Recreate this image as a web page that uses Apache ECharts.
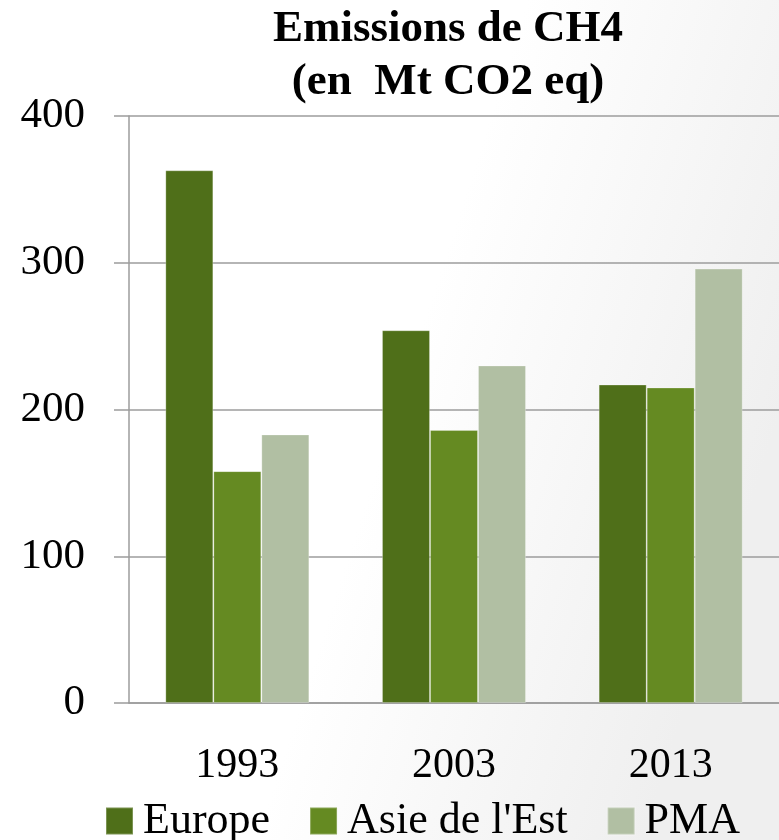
<!DOCTYPE html>
<html>
<head>
<meta charset="utf-8">
<script src="https://cdn.jsdelivr.net/npm/echarts@6/dist/echarts.min.js"></script>
<style>
  html, body { margin: 0; padding: 0; }
  #chart { width: 779px; height: 840px; }
</style>
</head>
<body>
<div id="chart"></div>
<script>
// Methane emissions by region (Mt CO2 eq)
const years = ['1993', '2003', '2013'];
const europe = [363, 254, 217];
const asieEst = [158, 186, 215];
const pma = [183, 230, 296];
const yTicks = [0, 100, 200, 300, 400];

const FONT = '"Liberation Serif", "Times New Roman", serif';
const AXIS_GRAY = '#9c9c9c';

const chart = echarts.init(document.getElementById('chart'));

function barSeries(name, data, color) {
  return {
    name: name,
    type: 'bar',
    data: data,
    barWidth: 48,
    barGap: '0%',
    itemStyle: { color: color, borderColor: 'rgba(255,255,255,0.25)', borderWidth: 1 },
    emphasis: { disabled: true }
  };
}

chart.setOption({
  animation: false,
  backgroundColor: {
    type: 'linear', x: 0, y: 0.2, x2: 1, y2: 0.5,
    colorStops: [
      { offset: 0, color: '#ffffff' },
      { offset: 0.55, color: '#ffffff' },
      { offset: 1, color: '#efefef' }
    ]
  },
  title: {
    text: 'Emissions de CH4\n(en  Mt CO2 eq)',
    left: 443,
    top: -2,
    textAlign: 'center',
    textStyle: {
      fontFamily: FONT,
      fontWeight: 'bold',
      fontSize: 45,
      lineHeight: 53,
      color: '#000'
    }
  },
  legend: {
    left: 100,
    top: 794,
    itemWidth: 27,
    itemHeight: 27,
    itemGap: 39,
    icon: 'rect',
    textStyle: {
      fontFamily: FONT,
      fontSize: 44,
      color: '#000',
      padding: [0, 0, 0, 5]
    },
    data: ['Europe', "Asie de l'Est", 'PMA']
  },
  grid: { left: 129, right: 0, top: 116, bottom: 137 },
  xAxis: {
    type: 'category',
    data: years,
    axisLine: { lineStyle: { color: AXIS_GRAY, width: 1.5 } },
    axisTick: { length: 15, lineStyle: { color: AXIS_GRAY, width: 1.5 } },
    axisLabel: { margin: 42, fontFamily: FONT, fontSize: 42, color: '#000' }
  },
  yAxis: {
    type: 'value',
    min: yTicks[0],
    max: yTicks[yTicks.length - 1],
    interval: 100,
    axisLine: { show: true, lineStyle: { color: AXIS_GRAY, width: 1.5 } },
    axisTick: { show: true, length: 15, lineStyle: { color: AXIS_GRAY, width: 1.5 } },
    splitLine: { lineStyle: { color: AXIS_GRAY, width: 1.5 } },
    axisLabel: { margin: 44, fontFamily: FONT, fontSize: 43, color: '#000' }
  },
  series: [
    barSeries('Europe', europe, '#4f6f19'),
    barSeries("Asie de l'Est", asieEst, '#658a22'),
    barSeries('PMA', pma, '#b1bfa3')
  ]
});
</script>
</body>
</html>
